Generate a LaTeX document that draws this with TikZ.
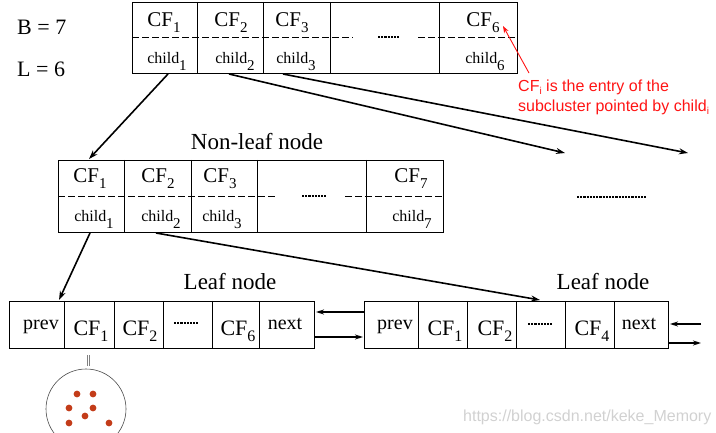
\documentclass[tikz,border=0pt]{standalone}
\usepackage{fontspec}
\setmainfont{Liberation Serif}
\newfontfamily\arialf{Liberation Sans}
\usetikzlibrary{arrows.meta}
\newcommand\fsz[1]{\fontsize{#1}{#1}\selectfont}
\newcommand\cfA[1]{{\fsz{21}CF\raisebox{-6pt}{\fsz{15}#1}}}
\newcommand\chA[1]{{\fsz{16}child\raisebox{-6.5pt}{\fsz{15}#1}}}
\newcommand\cfL[1]{{\fsz{22}CF\raisebox{-6pt}{\fsz{16}#1}}}
\definecolor{dotred}{RGB}{195,60,25}
\definecolor{annred}{RGB}{255,20,20}
\begin{document}
\begin{tikzpicture}[x=1pt,y=-1pt,
  box/.style={draw,line width=0.9pt,inner sep=0pt,anchor=north west},
  cell/.style={line width=0.9pt},
  cutline/.style={line width=0.8pt,dash pattern=on 7pt off 3pt},
  dotsline/.style={line width=2.6pt,dash pattern=on 2.2pt off 1pt},
  conn/.style={line width=1.6pt,-{Stealth[length=9pt,width=6pt]}},
  link/.style={line width=1.3pt,-{Stealth[length=8pt,width=5pt]}},
  txt/.style={anchor=base,inner sep=0pt},
  title/.style={anchor=base,inner sep=0pt,font=\fsz{23}},
]
\useasboundingbox (0,0) rectangle (716,433);

% B and L
\node[anchor=base west,inner sep=0pt] (B) at (17,35) {\fsz{22}B = 7};
\node[anchor=base west,inner sep=0pt] (L) at (17,77) {\fsz{22}L = 6};

% ---------- top node ----------
\node[box,minimum width=385pt,minimum height=71pt] (T) at (132,2) {};
\foreach \x in {197,263,330,439} \draw[cell] (\x,2) -- (\x,73);
\draw[cutline] (132,37) -- (353,37);
\draw[cutline] (418,37) -- (517,37);
\draw[dotsline] (378,37) -- (400,37);
\node[txt] (tcf1) at (164,27) {\cfA{1}};
\node[txt] (tcf2) at (231,27) {\cfA{2}};
\node[txt] (tcf3) at (292,27) {\cfA{3}};
\node[txt] (tcf6) at (483,27) {\cfA{6}};
\node[txt] (tch1) at (167,64) {\chA{1}};
\node[txt] (tch2) at (235,64) {\chA{2}};
\node[txt] (tch3) at (296,64) {\chA{3}};
\node[txt] (tch6) at (485,64) {\chA{6}};

% annotation
\node[anchor=base west,inner sep=0pt,text=annred,font=\arialf\fsz{16}] (ann1) at (518,92) {CF\raisebox{-3pt}{\fsz{10}i} is the entry of the};
\node[anchor=base west,inner sep=0pt,text=annred,font=\arialf\fsz{16}] (ann2) at (518,112) {subcluster pointed by child\raisebox{-3pt}{\fsz{10}i}};
\coordinate (annA) at (529,73);
\coordinate (annB) at (503,26);
\draw[annred,line width=0.9pt,-{Stealth[length=7pt,width=5pt]}] (annA) -- (annB);

% ---------- middle node ----------
\node[title] (nl) at (257,150) {Non-leaf node};
\node[box,minimum width=385pt,minimum height=72pt] (M) at (58,160) {};
\foreach \x in {124,191,257,366} \draw[cell] (\x,160) -- (\x,232);
\draw[cutline] (58,196) -- (278,196);
\draw[cutline] (345,196) -- (443,196);
\draw[dotsline] (302,196) -- (326,196);
\node[txt] (mcf1) at (90,183) {\cfA{1}};
\node[txt] (mcf2) at (158,183) {\cfA{2}};
\node[txt] (mcf3) at (220,183) {\cfA{3}};
\node[txt] (mcf7) at (411,183) {\cfA{7}};
\node[txt] (mch1) at (94,222) {\chA{1}};
\node[txt] (mch2) at (161,222) {\chA{2}};
\node[txt] (mch3) at (222,222) {\chA{3}};
\node[txt] (mch7) at (412,222) {\chA{7}};

% dotted placeholder on the right
\draw[dotsline] (577,197) -- (646,197);

% ---------- leaf 1 ----------
\node[title] (lf1) at (230,290) {Leaf node};
\node[box,minimum width=305pt,minimum height=47pt] (L1) at (9,301) {};
\foreach \x in {64,114,163,212,259} \draw[cell] (\x,301) -- (\x,349);
\node[txt,font=\fsz{20}] (l1p) at (41,330) {prev};
\node[txt] (l1c1) at (91,335) {\cfL{1}};
\node[txt] (l1c2) at (140,335) {\cfL{2}};
\draw[dotsline] (174,323) -- (198,323);
\node[txt] (l1c6) at (238,335) {\cfL{6}};
\node[txt,font=\fsz{20}] (l1n) at (285,330) {next};

% ---------- leaf 2 ----------
\node[title] (lf2) at (603,290) {Leaf node};
\node[box,minimum width=304pt,minimum height=47pt] (L2) at (364,301) {};
\foreach \x in {418,467,516,565,614} \draw[cell] (\x,301) -- (\x,349);
\node[txt,font=\fsz{20}] (l2p) at (395,330) {prev};
\node[txt] (l2c1) at (445,335) {\cfL{1}};
\node[txt] (l2c2) at (495,335) {\cfL{2}};
\draw[dotsline] (528,324) -- (552,324);
\node[txt] (l2c4) at (592,335) {\cfL{4}};
\node[txt,font=\fsz{20}] (l2n) at (639,330) {next};

% ---------- connectors ----------
\coordinate (c1s) at (168,74);
\coordinate (c1e) at (89,159);
\draw[conn] (c1s) -- (c1e);
\coordinate (c2s) at (229,74);
\coordinate (c2e) at (565,153);
\draw[conn] (c2s) -- (c2e);
\coordinate (c3s) at (283,74);
\coordinate (c3e) at (688,153);
\draw[conn] (c3s) -- (c3e);
\coordinate (m1s) at (90,233);
\coordinate (m1e) at (59,300);
\draw[conn] (m1s) -- (m1e);
\coordinate (m2s) at (156,233);
\coordinate (m2e) at (540,300);
\draw[conn] (m2s) -- (m2e);

% leaf links
\coordinate (k1a) at (364,312);
\coordinate (k1b) at (316,312);
\draw[link] (k1a) -- (k1b);
\coordinate (k2a) at (314,337);
\coordinate (k2b) at (363,337);
\draw[link] (k2a) -- (k2b);
\coordinate (k3a) at (701,324);
\coordinate (k3b) at (670,324);
\draw[link] (k3a) -- (k3b);
\coordinate (k4a) at (668,343);
\coordinate (k4b) at (701,343);
\draw[link] (k4a) -- (k4b);

% ---------- subcluster ----------
\begin{scope}
\clip (0,0) rectangle (716,433);
\node[draw=black!70,line width=0.6pt,circle,minimum size=80pt,inner sep=0pt] (S) at (86,409) {};
\end{scope}
\draw[gray,line width=0.7pt] (87,355) -- (87,366) (89.5,355) -- (89.5,366);
\foreach \p in {(77,394),(93,394),(69,408),(93,408),(85,416),(69,423),(109,423)}
  \fill[dotred] \p circle (3.4);

% watermark
\node[anchor=base west,inner sep=0pt,text=black!18,font=\arialf\fsz{16}] (wm) at (463,421) {https://blog.csdn.net/keke\_Memory};
\end{tikzpicture}
\end{document}
